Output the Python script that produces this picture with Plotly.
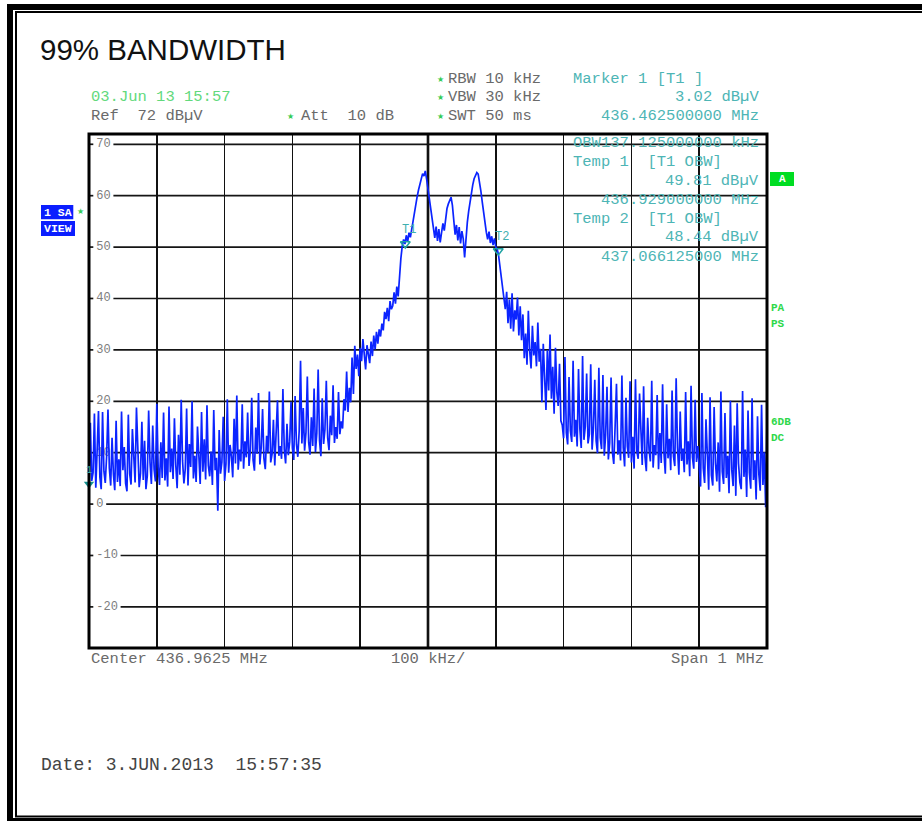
import plotly.graph_objects as go

# ---------------- data ----------------
f_start = 436.4625          # MHz
f_stop = 437.4625           # MHz
f_center = 436.9625         # MHz

levels = [
    3.0, 15.8, 4.5, 6.1, 17.6, 3.2, 10.4, 18.1, 5.3, 2.9,
    17.9, 6.4, 4.1, 9.3, 18.4, 7.0, 3.6, 12.9, 5.8, 2.7,
    16.2, 4.3, 8.7, 3.5, 18.0, 6.6, 11.1, 4.0, 2.5, 17.4,
    5.9, 3.8, 14.6, 7.7, 4.2, 18.8, 9.6, 3.3, 6.0, 16.0,
    4.7, 12.3, 2.9, 5.5, 18.2, 8.1, 3.9, 15.3, 6.8, 4.4,
    19.5, 7.3, 3.7,
    12.0, 5.1, 17.8, 4.6, 8.9, 3.4, 19.0, 6.2,
    10.8, 4.9, 16.7, 7.6, 3.1, 13.5, 5.7, 20.3, 8.4, 4.0,
    6.9, 18.6, 3.6, 11.7, 7.2, 20.0, 5.0, 9.4, 4.3, 15.1,
    8.0, 3.9, 17.9, 6.3, 12.6, 4.8, 19.2, 7.5, 5.4, 10.2,
    3.7, 18.3, 6.6, 9.0, -1.3, 14.4, 5.9, 8.2, 17.0, 4.5,
    7.8, 20.4, 6.1, 11.5, 9.3, 5.2, 16.6, 7.9, 21.1, 6.7,
    10.6,
    8.3, 19.4, 6.9, 12.2, 9.1, 17.8, 7.4, 10.5, 20.7, 8.6,
    6.5, 14.9, 9.8, 21.6, 7.7, 11.0, 18.5, 8.9, 6.8, 13.3,
    10.0, 21.9, 8.1, 9.7, 16.4, 7.5, 12.5, 20.2, 9.4, 11.3,
    8.8, 22.4, 10.7, 7.9, 15.6, 9.5, 12.1, 19.9, 10.9, 8.6,
    21.0, 11.6, 9.2, 14.2,
    27.9, 11.8, 18.7, 10.4, 13.9, 24.8, 12.0, 9.6, 16.9, 11.3,
    22.5, 10.1, 13.8, 26.2, 12.4, 9.3, 20.6, 11.7, 14.5, 24.0,
    12.9, 10.5, 17.2, 13.4, 23.1, 11.9, 15.0, 12.7, 21.8, 13.6,
    16.1, 14.7, 20.4, 18.2, 25.8, 17.9, 22.6, 19.8, 28.5, 21.4, 30.8,
    26.3, 29.1, 24.9, 30.4, 27.8, 32.1, 28.6, 26.2, 30.9, 29.3,
    27.4, 31.6, 28.8, 32.8, 30.1, 33.5, 31.2, 34.0, 32.6,
    35.1, 33.8, 37.4, 36.0, 38.2, 35.6, 39.5, 37.9, 38.6, 41.2, 39.0, 42.3, 40.4,
    44.6, 47.8, 50.2, 51.5, 50.6, 52.3, 51.0, 52.8, 51.9,
    53.6, 55.2, 56.9, 58.3, 59.8, 61.1, 62.4, 63.5, 64.3, 63.8, 64.8,
    63.2, 61.4, 59.0, 57.2, 55.1, 53.4, 51.8, 54.0, 51.2, 53.5, 50.9,
    52.8, 54.6, 53.2, 56.1, 57.5, 58.4, 59.2, 59.7,
    58.1, 55.6, 52.4, 54.3, 51.3, 53.9, 50.7, 53.1, 51.6, 48.0,
    52.2, 54.8, 57.0, 58.9, 60.6, 62.1, 63.3, 64.0, 64.5, 64.2,
    62.7, 60.9, 58.8, 56.6, 54.7, 52.9, 51.5, 53.0, 50.8,
    52.1, 50.4, 51.7, 50.0, 49.6,
    48.5, 46.3, 44.0, 41.8, 39.6, 37.9,
    41.3, 35.2, 39.8, 34.1, 41.0, 33.6, 37.7, 35.9, 40.2, 32.8, 38.5, 31.9,
    36.9, 28.4, 33.2, 27.1, 37.6, 29.8, 26.4, 34.7, 28.9, 31.5, 26.8, 35.3, 27.7, 30.2,
    19.8, 31.2, 24.6, 18.3, 29.9, 22.1, 33.0, 20.5, 26.7, 17.6, 30.4, 21.8, 19.1, 27.3, 16.2,
    15.4, 12.8, 28.6, 13.9, 11.6, 24.7, 14.3, 12.1, 27.9, 13.1,
    16.4, 11.2, 26.3, 14.6, 10.9, 28.8, 12.5, 15.1, 25.4, 11.8,
    13.6, 27.2, 10.6, 14.8, 24.2, 12.3, 9.9, 26.5,
    12.9, 10.7, 25.1, 9.4, 13.5, 22.8, 8.7, 11.9, 24.6, 10.1,
    7.8, 15.2, 23.4, 9.6, 12.4, 8.5, 25.0, 10.9, 7.3, 20.7,
    11.2, 9.0, 23.9, 8.1, 13.1, 6.9, 24.3, 10.3, 8.8, 21.5,
    12.0, 7.6, 22.9, 9.2, 6.4, 16.8, 10.6, 8.3, 24.0, 7.1,
    11.5, 9.5, 21.2, 6.8, 13.8, 8.0, 23.3, 10.0, 5.9, 19.4,
    8.9, 12.7, 6.6, 22.1, 9.3, 7.4, 24.5, 11.0, 5.7, 18.0,
    8.4, 10.8, 6.2, 21.8, 7.7, 12.2, 5.4, 23.0, 9.1, 6.9,
    20.3, 8.2, 11.3, 6.5,
    3.4, 21.6, 7.0, 4.1, 16.5, 9.7, 2.8, 20.8, 5.6, 3.6,
    18.9, 8.0, 4.4, 12.0, 2.4, 21.9, 6.3, 3.9, 17.7, 5.1,
    9.4, 2.1, 20.1, 6.7, 3.5, 15.3, 1.6, 19.6, 7.9, 4.2,
    2.9, 22.0, 5.3, 10.6, 1.4, 18.2, 6.1, 3.0, 20.6, 4.7,
    8.5, 0.9, 17.1, 5.8, 2.6, 19.3, 3.7, 10.1, -0.6, 16.8,
]
step = (f_stop - f_start) / (len(levels) - 1)
freqs = [f_start + i * step for i in range(len(levels))]

y_ticks = [70, 60, 50, 40, 30, 20, 10, 0, -10, -20]
y_tick_labels = [str(v) for v in y_ticks]

marker_names = ["1", "T1", "T2"]
marker_freqs = [436.4625, 436.929, 437.066125]
marker_levels = [3.02, 49.81, 48.44]
obw_khz = 137.125

# ---------------- layout helpers (pixel positions) ----------------
W, H = 922, 821
L, R, T, B = 89, 767, 134, 648
DB_PX = (B - T) / 100.0


def PX(x):
    return (x - L) / (R - L)


def PY(y):
    return (B - y) / (B - T)


MONO = "Liberation Mono"
TEAL = "#4db5b5"
GREEN = "#62d97c"
GRAY = "#6a6a6a"
STAR = "#33cc55"
BLUE = "#0b24ff"

ann = []


def txt(x, y, s, color, size=15.5, anchor="left", family=MONO):
    ann.append(dict(x=PX(x), y=PY(y), xref="paper", yref="paper", text=s,
                    showarrow=False, xanchor=anchor, yanchor="middle",
                    font=dict(family=family, size=size, color=color)))


fig = go.Figure()

# y tick labels drawn underneath the trace
fig.add_trace(go.Scatter(
    x=[f_start] * len(y_ticks), y=y_ticks, mode="markers+text",
    text=y_tick_labels, textposition="middle right",
    marker=dict(size=10, color="rgba(0,0,0,0)"),
    textfont=dict(family=MONO, size=12, color="#7d7d7d"),
    hoverinfo="skip", showlegend=False, cliponaxis=False))

# spectrum trace
fig.add_trace(go.Scatter(
    x=freqs, y=levels, mode="lines",
    line=dict(color=BLUE, width=1.7),
    hoverinfo="skip", showlegend=False))

# markers (triangle tip at the level)
tri_off_open = 4.25 / DB_PX
fig.add_trace(go.Scatter(
    x=marker_freqs[1:], y=[v + tri_off_open for v in marker_levels[1:]],
    mode="markers",
    marker=dict(symbol="triangle-down-open", size=8.5, color="#1fa3a3",
                line=dict(width=1.5, color="#1fa3a3")),
    hoverinfo="skip", showlegend=False))
tri_off_fill = 4.5 / DB_PX
fig.add_trace(go.Scatter(
    x=marker_freqs[:1], y=[v + tri_off_fill for v in marker_levels[:1]],
    mode="markers",
    marker=dict(symbol="triangle-down", size=9, color="#138f8f"),
    hoverinfo="skip", showlegend=False, cliponaxis=False))

for name, f, v in zip(marker_names, marker_freqs, marker_levels):
    shift_x = 0 if name == "1" else 3.5
    ann.append(dict(x=f, y=v, xref="x", yref="y", text=name, showarrow=False,
                    xshift=shift_x, yshift=18,
                    font=dict(family=MONO, size=12 if name != "1" else 10,
                              color="#3fb0b0")))

# ---------------- shapes ----------------
shapes = []
# horizontal grid lines broken for the labels
for v, lab in zip(y_ticks, y_tick_labels):
    shapes.append(dict(type="line", xref="paper", yref="y", x0=PX(89.5), x1=PX(93.3),
                       y0=v, y1=v, line=dict(color="#151515", width=1.7), layer="below"))
    shapes.append(dict(type="line", xref="paper", yref="y",
                       x0=PX(96.5 + len(lab) * 7.2 + 2.5), x1=1,
                       y0=v, y1=v, line=dict(color="#151515", width=1.7), layer="below"))
# center line
shapes.append(dict(type="line", xref="x", yref="paper", x0=f_center, x1=f_center,
                   y0=0, y1=1, line=dict(color="#000", width=2.6), layer="below"))
# plot border
shapes.append(dict(type="rect", xref="paper", yref="paper", x0=0, x1=1, y0=0, y1=1,
                   line=dict(color="#000", width=3), layer="above"))
# outer page frame
shapes.append(dict(type="rect", xref="paper", yref="paper",
                   x0=PX(10), x1=PX(945), y0=PY(7), y1=PY(821),
                   line=dict(color="#000", width=6)))
shapes.append(dict(type="rect", xref="paper", yref="paper",
                   x0=PX(16), x1=PX(935), y0=PY(12), y1=PY(816.5),
                   line=dict(color="#000", width=2)))
# blue status boxes
shapes.append(dict(type="rect", xref="paper", yref="paper",
                   x0=PX(41), x1=PX(73.3), y0=PY(219.3), y1=PY(205),
                   fillcolor="#0b1eff", line=dict(width=0)))
shapes.append(dict(type="rect", xref="paper", yref="paper",
                   x0=PX(41), x1=PX(75), y0=PY(236), y1=PY(221),
                   fillcolor="#0b1eff", line=dict(width=0)))
# green "A" box
shapes.append(dict(type="rect", xref="paper", yref="paper",
                   x0=PX(770), x1=PX(794), y0=PY(186), y1=PY(172),
                   fillcolor="#00dd22", line=dict(width=0)))

# ---------------- texts ----------------
txt(38, 50, "99% BANDWIDTH", "#111", size=29.5, family="Liberation Sans")

txt(89, 97, "03.Jun 13 15:57", GREEN)
txt(89, 116, "Ref  72 dBµV", GRAY)
txt(290.5, 116.5, "★", STAR, size=8, anchor="center", family="DejaVu Sans")
txt(299, 116, "Att  10 dB", GRAY)
for yy, s in [(79, "RBW 10 kHz"), (97, "VBW 30 kHz"), (116, "SWT 50 ms")]:
    txt(440, yy + 0.5, "★", STAR, size=8, anchor="center", family="DejaVu Sans")
    txt(446, yy, s, GRAY)

txt(571, 79, "Marker 1 [T1 ]", TEAL)
txt(761, 97, f"{marker_levels[0]:.2f} dBµV", TEAL, anchor="right")
txt(761, 116, f"{marker_freqs[0]:.9f} MHz", TEAL, anchor="right")

txt(571, 143, f"OBW{obw_khz:.9f} kHz", TEAL)
txt(571, 162, "Temp 1  [T1 OBW]", TEAL)
txt(761, 181, f"{marker_levels[1]:.2f} dBµV", TEAL, anchor="right")
txt(761, 199.5, f"{marker_freqs[1]:.9f} MHz", TEAL, anchor="right")
txt(571, 219, "Temp 2  [T1 OBW]", TEAL)
txt(761, 237.5, f"{marker_levels[2]:.2f} dBµV", TEAL, anchor="right")
txt(761, 256.5, f"{marker_freqs[2]:.9f} MHz", TEAL, anchor="right")

# status boxes text
txt(42, 212, "<b>1 SA</b>", "#ffffff", size=11.5)
txt(41.5, 228.5, "<b>VIEW</b>", "#ffffff", size=11.5)
txt(80, 211.5, "★", STAR, size=8, anchor="center", family="DejaVu Sans")
txt(782, 179, "<b>A</b>", "#ffffff", size=11, anchor="center")

for yy, s in [(308, "PA"), (324, "PS"), (422, "6DB"), (438, "DC")]:
    txt(769, yy, f"<b>{s}</b>", "#2ed84a", size=11)

txt(88.5, 659, "Center 436.9625 MHz", GRAY)
txt(389, 659, "100 kHz/", GRAY)
txt(766, 659, "Span 1 MHz", GRAY, anchor="right")

txt(38.5, 765, "Date: 3.JUN.2013  15:57:35", "#444", size=18)

fig.update_layout(
    width=W, height=H,
    margin=dict(l=L, r=W - R, t=T, b=H - B, pad=0),
    paper_bgcolor="white", plot_bgcolor="white",
    showlegend=False,
    xaxis=dict(range=[f_start, f_stop], showgrid=True, gridcolor="#111",
               gridwidth=1.7, tick0=f_start, dtick=0.1, showticklabels=False,
               ticks="", zeroline=False, showline=False, fixedrange=True),
    yaxis=dict(range=[-28, 72], showgrid=False, showticklabels=False,
               ticks="", zeroline=False, showline=False, fixedrange=True),
    shapes=shapes,
    annotations=ann,
)

fig.write_html("out.html", config={"displayModeBar": False, "staticPlot": True},
               post_script="document.body.style.margin='0';document.body.style.overflow='hidden';")
